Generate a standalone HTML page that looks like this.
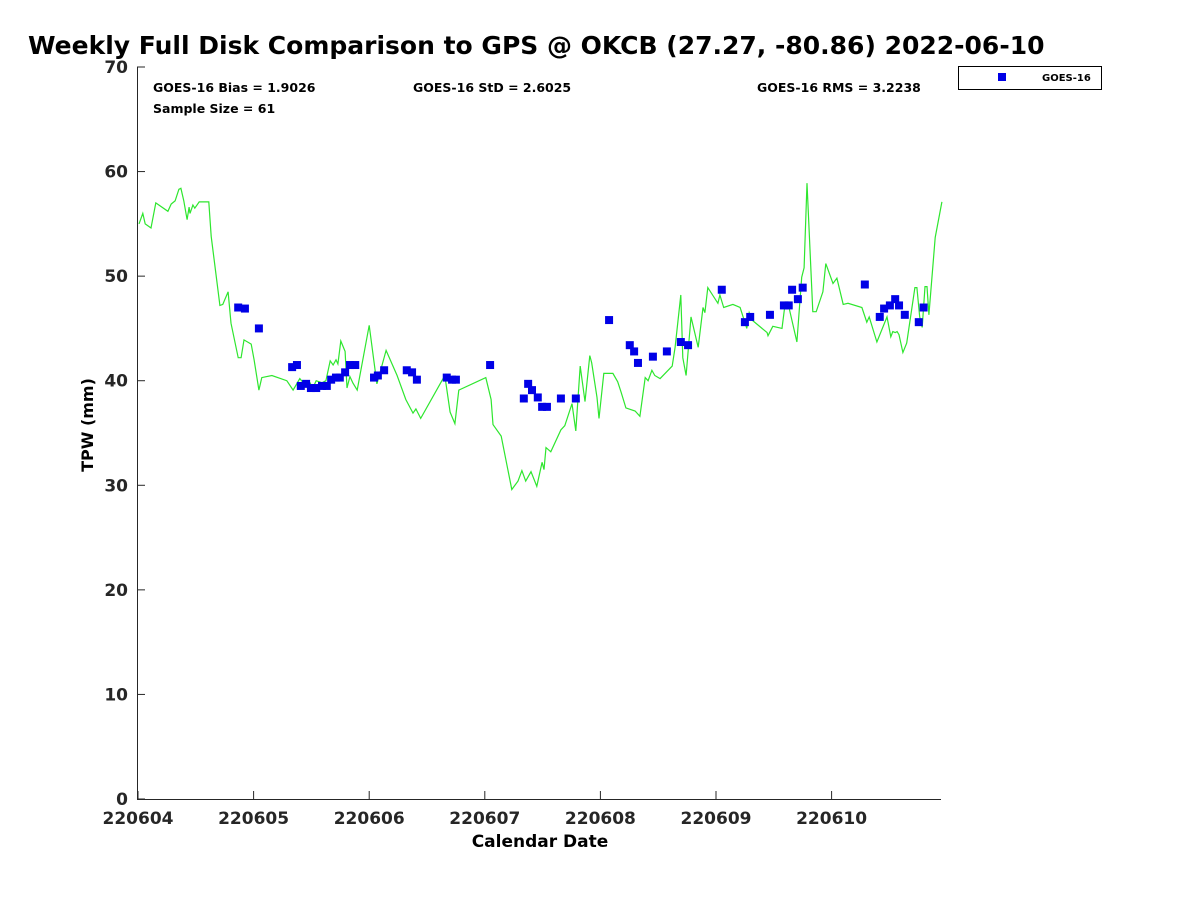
<!DOCTYPE html>
<html><head><meta charset="utf-8"><style>
body{margin:0;background:#fff;}
svg text{font-family:"DejaVu Sans","Liberation Sans",sans-serif;font-weight:bold;}
</style></head><body>
<svg id="chart" width="1200" height="900" xmlns="http://www.w3.org/2000/svg">
<text x="28" y="54" font-size="25">Weekly Full Disk Comparison to GPS @ OKCB (27.27, -80.86) 2022-06-10</text>
<rect x="137" y="67" width="804" height="732" fill="none" stroke="none"/>
<text x="153" y="92" font-size="12.5">GOES-16 Bias = 1.9026</text>
<text x="153" y="113" font-size="12.5">Sample Size = 61</text>
<text x="413" y="92" font-size="12.5">GOES-16 StD = 2.6025</text>
<text x="757" y="92" font-size="12.5">GOES-16 RMS = 3.2238</text>
<g>
<rect x="958.5" y="66.5" width="143" height="23" fill="#fff" stroke="#000"/>
<rect x="998" y="73" width="8" height="8" fill="#0000e6"/>
<text x="1042" y="81" font-size="10">GOES-16</text>
</g>
<text x="540" y="847" font-size="17" text-anchor="middle">Calendar Date</text>
<text transform="translate(93,425) rotate(-90)" font-size="16" text-anchor="middle">TPW (mm)</text>
</svg>
<script>
const xTickLabels=["220604","220605","220606","220607","220608","220609","220610"];
const yTickValues=[0,10,20,30,40,50,60,70];
const gpsHours=[0.2,1.0,1.5,2.7,3.7,6.2,6.9,7.7,8.5,8.9,9.5,10.2,10.6,10.8,11.4,11.8,12.7,14.7,15.2,17.0,17.6,18.7,19.3,20.8,21.4,22.0,23.5,24.1,25.1,25.7,27.8,30.9,32.2,33.6,34.7,35.7,36.3,37.0,38.2,39.0,39.9,40.5,41.1,41.5,42.1,43.0,43.4,44.0,44.6,45.5,48.0,49.6,51.5,53.8,55.6,57.1,57.7,58.7,63.7,64.8,65.8,66.6,72.2,73.3,73.7,75.4,77.6,78.9,79.7,80.5,81.6,82.8,83.9,84.3,84.7,85.7,87.8,88.6,90.1,90.9,91.8,92.8,93.8,94.2,95.3,95.7,96.7,98.6,99.6,100.3,101.3,103.2,104.2,105.3,105.9,106.7,107.3,108.4,110.9,111.5,112.7,113.1,113.8,114.8,116.3,117.3,117.7,118.3,120.4,120.8,121.6,123.5,125.0,126.4,126.9,127.5,130.6,130.8,131.8,133.7,134.3,134.9,136.8,137.8,138.3,138.9,140.1,140.8,142.2,142.8,144.3,145.1,146.4,147.4,150.3,151.3,151.8,153.4,155.5,156.3,156.7,157.2,157.6,158.0,158.8,159.6,161.3,161.7,162.3,162.8,163.4,163.8,164.2,165.5,166.9];
const gpsTpw=[55.0,56.0,55.0,54.6,57.0,56.2,56.9,57.2,58.3,58.4,57.2,55.4,56.6,56.0,56.8,56.5,57.1,57.1,53.8,47.2,47.3,48.5,45.5,42.2,42.2,43.9,43.5,42.0,39.1,40.3,40.5,40.0,39.1,40.2,39.6,39.8,39.3,40.0,39.8,40.0,41.9,41.5,42.0,41.6,43.8,42.8,39.3,40.4,39.8,39.1,45.3,39.7,42.9,40.5,38.2,36.9,37.3,36.4,40.5,37.0,35.9,39.1,40.3,38.2,35.8,34.7,29.6,30.4,31.4,30.4,31.3,29.9,32.2,31.5,33.6,33.2,35.3,35.7,37.8,35.2,41.4,38.0,42.4,41.7,38.4,36.4,40.7,40.7,39.9,38.9,37.4,37.1,36.6,40.3,40.0,41.0,40.5,40.2,41.4,43.2,48.2,42.2,40.5,46.1,43.2,47.0,46.5,48.9,47.4,48.2,47.0,47.3,47.0,45.0,46.5,45.8,44.6,44.3,45.2,45.0,47.2,47.5,43.7,49.9,50.8,58.9,46.6,46.6,48.5,51.2,49.3,49.8,47.3,47.4,47.0,45.6,46.1,43.7,46.1,44.2,44.7,44.6,44.7,44.4,42.7,43.6,48.9,48.9,46.1,45.1,49.0,49.0,46.3,53.7,57.1];
const goesHours=[20.8,22.2,25.1,32.0,33.0,33.8,34.9,35.9,37.0,38.2,39.2,40.1,41.1,41.9,43.0,44.0,45.1,49.0,49.8,51.1,55.8,56.9,57.9,64.1,65.2,66.0,73.1,80.1,81.0,81.8,83.0,83.9,84.9,87.8,90.9,97.8,102.1,103.0,103.8,106.9,109.8,112.7,114.2,121.2,126.0,127.1,131.2,134.1,135.1,135.8,137.0,138.0,150.9,154.0,154.9,156.1,157.2,158.0,159.2,162.1,163.1];
const goesTpw=[47.0,46.9,45.0,41.3,41.5,39.5,39.7,39.3,39.3,39.5,39.5,40.1,40.3,40.3,40.8,41.5,41.5,40.3,40.5,41.0,41.0,40.8,40.1,40.3,40.1,40.1,41.5,38.3,39.7,39.1,38.4,37.5,37.5,38.3,38.3,45.8,43.4,42.8,41.7,42.3,42.8,43.7,43.4,48.7,45.6,46.1,46.3,47.2,47.2,48.7,47.8,48.9,49.2,46.1,46.9,47.2,47.8,47.2,46.3,45.6,47.0];

const NS="http://www.w3.org/2000/svg";
const svg=document.getElementById('chart');
const L=137,R=941,T=67,B=799;
const xDay0=138,pxPerDay=115.6;
function xs(h){return xDay0+h*pxPerDay/24;}
function ys(v){return B-(v/70)*(B-T);}
function mk(tag,attrs){const e=document.createElementNS(NS,tag);for(const k in attrs)e.setAttribute(k,attrs[k]);svg.appendChild(e);return e;}

let ax=mk('path',{d:`M${L+0.5},${T} V${B+0.5} H${R}`,fill:'none',stroke:'#262626','stroke-width':1});



yTickValues.forEach(v=>{
  const y=ys(v);
  const t=mk('line',{x1:L,x2:L+8,y1:y,y2:y,stroke:'#262626'});
  
  
  const lb=mk('text',{x:L-9,y:y+6,'font-size':17,'text-anchor':'end',fill:'#262626'});
  lb.textContent=v;
  
  
});
xTickLabels.forEach((s,i)=>{
  const x=xs(i*24);
  const t=mk('line',{x1:x,x2:x,y1:B,y2:B-8,stroke:'#262626'});
  
  
  const lb=mk('text',{x:x,y:B+25,'font-size':17,'text-anchor':'middle',fill:'#262626'});
  lb.textContent=s;
  
  
});

const pts=gpsHours.map((h,i)=>xs(h).toFixed(1)+','+ys(gpsTpw[i]).toFixed(1)).join(' ');
const line=mk('polyline',{points:pts,fill:'none',stroke:'#2ee62e','stroke-width':1.2});



goesHours.forEach((h,i)=>{
  const r=mk('rect',{x:xs(h)-4,y:ys(goesTpw[i])-4,width:8,height:8,fill:'#0000e6'});
  
  
});
</script>
</body></html>
